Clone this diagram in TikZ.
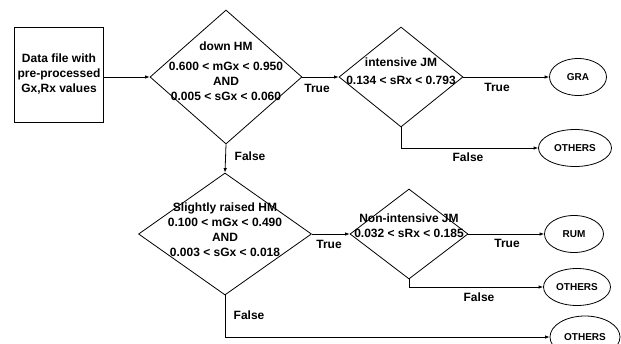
\documentclass[tikz,border=0pt]{standalone}
\usepackage{fontspec}
\setmainfont{Liberation Sans}
\usetikzlibrary{shapes.geometric,arrows.meta}

\begin{document}
\begin{tikzpicture}[x=1pt,y=-1pt,line width=0.8pt,
    every node/.style={font=\bfseries\fontsize{12}{15}\selectfont},
    decision/.style={diamond,draw,inner sep=0pt},
    endbox/.style={ellipse,draw,inner sep=0pt,minimum height=37pt,
      font=\bfseries\fontsize{10}{12}\selectfont},
    cond/.style={align=center,inner sep=0pt},
    arr/.style={-{Latex[length=4.5pt,width=3.5pt]}}]
        \useasboundingbox (0,0) rectangle (621,343);

        % input box and the two tests on HM
        \node[draw,minimum width=88pt,minimum height=95pt,align=center] (data) at (59,74.5)
        {Data file with\\pre-processed\\Gx,Rx values};
        \node[decision,minimum width=152pt,minimum height=134pt] (hm) at (226,77) {};
        \node[cond] (hmtext) at ([yshift=6pt]hm.center)
        {down HM\\[5pt]0.600 < mGx < 0.950\\AND\\0.005 < sGx < 0.060};
        \node[decision,minimum width=173pt,minimum height=122pt] (hmlow) at (225,234) {};
        \node[cond] (hmlowtext) at ([yshift=4pt]hmlow.center)
        {Slightly raised HM\\0.100 < mGx < 0.490\\AND\\0.003 < sGx < 0.018};

        % tests on JM
        \node[decision,minimum width=124pt,minimum height=100pt] (jm) at (401,77) {};
        \node[cond] (jmtext) at ([yshift=6pt]jm.center) {intensive JM\\[3pt]0.134 < sRx < 0.793};
        \node[decision,minimum width=118pt,minimum height=90pt] (jmlow) at (409,234) {};
        \node[cond] (jmlowtext) at ([yshift=8pt]jmlow.center) {Non-intensive JM\\0.032 < sRx < 0.185};

        % outcomes
        \node[endbox,minimum width=57pt] (gra) at (578,77) {GRA};
        \node[endbox,minimum width=73pt] (oth1) at (575,148) {OTHERS};
        \node[endbox,minimum width=59pt] (rum) at (574,234) {RUM};
        \node[endbox,minimum width=67pt] (oth2) at (577,287) {OTHERS};
        \node[endbox,minimum width=70pt,minimum height=42pt] (oth3) at (585,337) {OTHERS};

        % connectors
        \draw[arr] (data.east |- hm.west) -- (hm.west);
        \draw[arr] (hm.east) -- (jm.west);
        \draw[arr] (jm.east) -- (gra.west);
        \draw[arr] (jm.south) |- (oth1.west);
        \draw[arr] (hm.south) -- (hmlow.north);
        \draw[arr] (hmlow.east) -- (jmlow.west);
        \draw[arr] (jmlow.east) -- (rum.west);
        \draw[arr] (jmlow.south) |- (oth2.west);
        \draw[arr] (hmlow.south) |- (oth3.west);

        % branch labels
        \node (t1) at (317,88) {True};
        \node (t2) at (497,87) {True};
        \node (f2) at (468,157) {False};
        \node[anchor=west] (f1) at (231,156) {False};
        \node (t3) at (329,244) {True};
        \node (t4) at (507,243) {True};
        \node (f4) at (479,297) {False};
        \node[anchor=west] (f3) at (230,315) {False};
\end{tikzpicture}
\end{document}
